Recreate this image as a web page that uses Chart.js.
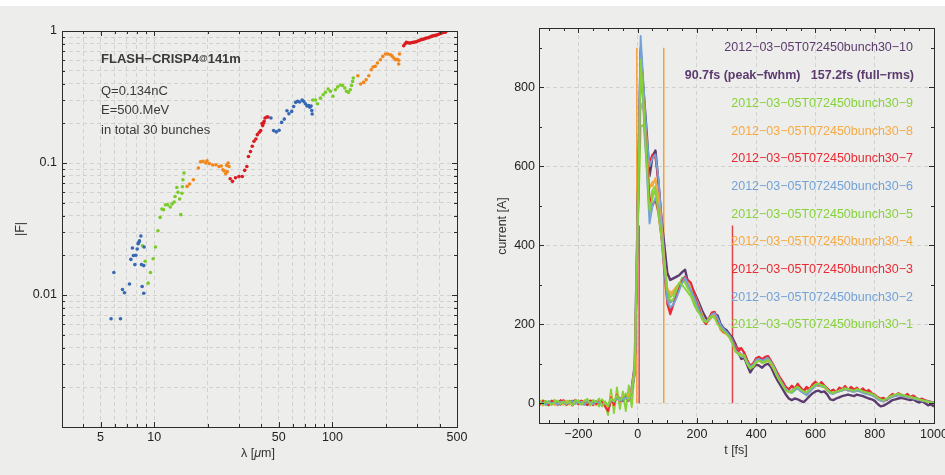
<!DOCTYPE html>
<html>
<head>
<meta charset="utf-8">
<script src="https://cdn.jsdelivr.net/npm/chart.js@4.4.0/dist/chart.umd.min.js"></script>
<style>
  html, body { margin: 0; padding: 0; background: #ededeb; }
  body { width: 945px; height: 475px; position: relative; overflow: hidden; }
  #strip { position: absolute; left: 0; top: 0; width: 945px; height: 6px; background: #fff; }
  #left { position: absolute; left: 0; top: 0; }
  #right { position: absolute; left: 470px; top: 0; }
</style>
</head>
<body>
<div id="strip"></div>
<canvas id="left" width="470" height="475"></canvas>
<canvas id="right" width="475" height="475"></canvas>
<script>
// ---- left panel: form factor |F| vs wavelength, one array pair per detector group
const BLUE1_LAMBDA = [5.73, 6.47, 5.94, 6.64, 6.81, 7.27, 7.4, 7.55, 7.65, 7.79, 7.89, 8.03, 8.13, 8.2, 8.27, 8.42, 8.49, 8.56, 8.74, 8.74, 8.78];
const BLUE1_F = [0.0066, 0.0066, 0.0148, 0.011, 0.0104, 0.0121, 0.0186, 0.0227, 0.0199, 0.017, 0.020, 0.0223, 0.0245, 0.025, 0.0257, 0.028, 0.017, 0.0116, 0.0167, 0.0103, 0.0231];
const GREEN1_LAMBDA = [8.6, 8.9, 9.25, 9.53, 9.87, 10.17, 10.5, 10.8, 11.05, 11.28, 11.57, 11.9, 12.3, 12.6, 12.95, 13.1, 13.4, 13.6, 13.9, 14.1, 14.3, 14.4, 14.5, 14.7];
const GREEN1_F = [0.0236, 0.018, 0.0123, 0.0148, 0.0188, 0.0231, 0.0307, 0.0387, 0.0448, 0.0443, 0.0483, 0.0483, 0.0464, 0.049, 0.0506, 0.0558, 0.0653, 0.060, 0.0533, 0.0406, 0.059, 0.066, 0.0747, 0.084];
const ORANGE1_LAMBDA = [15.3, 15.8, 16.6, 17.7, 18.2, 18.8, 19.5, 19.8, 20.4, 21.3, 22.2, 23.1, 23.8, 24.3, 24.7, 25.2, 25.5, 26, 26.3, 25.7];
const ORANGE1_F = [0.0665, 0.0693, 0.0747, 0.0917, 0.102, 0.103, 0.1, 0.104, 0.099, 0.0966, 0.097, 0.094, 0.095, 0.089, 0.087, 0.083, 0.096, 0.1, 0.094, 0.086];
const RED1_LAMBDA = [26.7, 27.5, 28.6, 29.9, 31.2, 32.2, 33.1, 33.8, 34.7, 35.5, 36.3, 37.2, 37.9, 38.9, 39.6, 40.3, 40.6, 41, 41.4, 41.9, 42.9, 43.5];
const RED1_F = [0.076, 0.0726, 0.0774, 0.079, 0.079, 0.088, 0.094, 0.112, 0.122, 0.134, 0.146, 0.152, 0.164, 0.171, 0.176, 0.199, 0.192, 0.2, 0.207, 0.219, 0.223, 0.223];
const BLUE2_LAMBDA = [45.2, 46.8, 48.4, 50.2, 51.9, 53.7, 55.6, 57, 59.1, 60.6, 62.2, 63.8, 65.5, 67.6, 69, 70.5, 72, 73.5, 74.7, 75.9, 76.6, 77];
const BLUE2_F = [0.219, 0.176, 0.172, 0.177, 0.203, 0.215, 0.249, 0.236, 0.246, 0.268, 0.288, 0.293, 0.29, 0.3, 0.293, 0.281, 0.27, 0.273, 0.265, 0.27, 0.25, 0.235];
const GREEN2_LAMBDA = [77.6, 80.3, 82.6, 85.7, 88.7, 91.4, 94.6, 97.5, 100.6, 104, 107, 110.9, 114, 117.4, 120, 123, 126, 128, 129.8, 131];
const GREEN2_F = [0.3, 0.3, 0.281, 0.31, 0.329, 0.343, 0.363, 0.349, 0.32, 0.359, 0.377, 0.39, 0.386, 0.37, 0.35, 0.343, 0.359, 0.386, 0.415, 0.44];
const ORANGE2_LAMBDA = [139, 144, 149.6, 154.6, 160, 165, 169, 174, 179, 186, 191.7, 198.5, 205, 212, 216.5, 221, 226, 230.7, 235.5, 238, 235.5];
const ORANGE2_F = [0.458, 0.397, 0.408, 0.427, 0.458, 0.509, 0.533, 0.54, 0.572, 0.606, 0.642, 0.669, 0.669, 0.66, 0.645, 0.624, 0.606, 0.61, 0.6, 0.669, 0.562];
const RED2_LAMBDA = [251, 256, 260, 265, 271, 277, 283.5, 290, 296, 302, 309, 316, 323, 330, 337, 345, 352, 360, 367, 375, 383, 392, 400, 406, 412, 418, 421, 426, 430, 432, 435];
const RED2_F = [0.774, 0.80, 0.82, 0.815, 0.81, 0.815, 0.82, 0.825, 0.83, 0.84, 0.85, 0.86, 0.866, 0.875, 0.885, 0.89, 0.9, 0.91, 0.92, 0.925, 0.93, 0.94, 0.954, 0.96, 0.97, 0.975, 0.98, 0.985, 0.98, 0.99, 1.0];

const LAMBDA_GRID = [4, 5, 6, 7, 8, 9, 10, 20, 30, 40, 50, 60, 70, 80, 90, 100, 200, 300, 400, 500];
const LAMBDA_LABELS = [5, 10, 50, 100, 500];
const LAMBDA_MINOR = [4, 6, 7, 8, 9, 20, 30, 40, 60, 70, 80, 90, 200, 300, 400];
const F_GRID = [0.002, 0.003, 0.004, 0.005, 0.006, 0.007, 0.008, 0.009, 0.01, 0.02, 0.03, 0.04, 0.05, 0.06, 0.07, 0.08, 0.09, 0.1, 0.2, 0.3, 0.4, 0.5, 0.6, 0.7, 0.8, 0.9, 1];
const F_LABELS = [1, 0.1, 0.01];
const F_MINOR = [0.002, 0.003, 0.004, 0.005, 0.006, 0.007, 0.008, 0.009, 0.02, 0.03, 0.04, 0.05, 0.06, 0.07, 0.08, 0.09, 0.2, 0.3, 0.4, 0.5, 0.6, 0.7, 0.8, 0.9];

// ---- right panel: current profiles
const T_FS = [-340, -330, -320, -310, -300, -290, -280, -270, -260, -250, -240, -230, -220, -210, -200, -190, -180, -170, -160, -150, -140, -130, -120, -110,
  -100, -90, -80, -70, -60, -50, -40, -30, -20, -10,
  0, 10, 20, 30, 40, 50, 60, 70, 80, 90, 100,
  110, 120, 130, 140, 150, 160, 170, 180, 190, 200, 210, 220, 230, 240, 250, 260, 270, 280, 290, 300,
  310, 320, 330, 340, 350, 360, 370, 380, 390, 400, 410, 420, 430, 440, 450, 460, 470, 480, 490, 500,
  510, 520, 530, 540, 550, 560, 570, 580, 590, 600, 610, 620, 630, 640, 650, 660, 670, 680, 690, 700,
  710, 720, 730, 740, 750, 760, 770, 780, 790, 800, 810, 820, 830, 840, 850, 860, 870, 880, 890, 900,
  910, 920, 930, 940, 950, 960, 970, 980, 990, 1000];

const BUNCH_1 = [2, 5, -3, 6, 1, -4, 3, 7, -2, 5, 0, 4, -5, 8, 2, -3, 6, 10, -4, 7, 3, 12, -8, 5,
  -8, 12, 5, 20, 8, 15, 25, 10, 30, 85,
  440, 870, 760, 620, 490, 520, 540, 480, 420, 350, 285,
  268, 275, 290, 305, 300, 290, 280, 270, 250, 235, 225, 210, 205, 215, 220, 215, 200, 190, 182, 175,
  168, 150, 130, 125, 120, 122, 100, 88, 95, 105, 108, 104, 106, 110, 102, 88, 70, 58, 45, 32,
  28, 30, 38, 42, 35, 30, 28, 35, 42, 48, 50, 46, 44, 35, 28, 26, 30, 32, 35, 38,
  36, 34, 32, 36, 34, 30, 28, 26, 24, 20, 14, 10, 8, 12, 16, 20, 22, 24, 22, 20,
  18, 16, 14, 12, 10, 8, 6, 4, 2, 0];
const BUNCH_2 = [-2, 3, 1, -4, 5, 0, 2, -3, 4, 1, -2, 3, 5, -1, 2, 4, -3, 6, 2, -2, 5, 1, -6, 3,
  -5, 10, 4, 12, 6, 10, 15, 8, 28, 70,
  430, 850, 740, 600, 455, 500, 520, 500, 430, 340, 260,
  242, 250, 265, 285, 305, 318, 300, 285, 270, 250, 230, 215, 205, 212, 225, 228, 215, 198, 188, 180,
  170, 155, 135, 125, 118, 118, 105, 92, 98, 110, 112, 108, 110, 114, 105, 92, 75, 60, 48, 36,
  30, 28, 34, 38, 30, 26, 22, 30, 38, 45, 48, 44, 42, 34, 26, 24, 28, 30, 33, 36,
  34, 32, 30, 33, 31, 28, 26, 24, 22, 18, 12, 8, 6, 10, 14, 18, 20, 22, 20, 18,
  16, 15, 14, 12, 10, 8, 6, 5, 3, 2];
const BUNCH_3 = [4, -3, 6, 2, -5, 7, 1, -2, 8, 3, -4, 5, 2, 9, -3, 6, 1, -5, 7, 4, -2, 6, 3, -8,
  -20, 15, -5, 22, 5, 12, 18, 6, 30, 75,
  420, 860, 760, 630, 520, 500, 515, 480, 420, 330, 250,
  225, 248, 270, 290, 310, 320, 312, 305, 280, 255, 235, 212, 200, 215, 230, 232, 212, 190, 180, 178,
  170, 158, 140, 132, 138, 128, 110, 95, 102, 115, 118, 112, 118, 120, 108, 95, 80, 66, 55, 42,
  35, 45, 38, 50, 40, 32, 42, 36, 48, 55, 46, 54, 45, 38, 30, 35, 28, 40, 36, 44,
  34, 42, 35, 40, 32, 38, 30, 34, 26, 22, 16, 12, 14, 8, 18, 24, 20, 26, 22, 18,
  24, 16, 20, 14, 10, 12, 8, 6, 4, 2];
const BUNCH_4 = [-3, 2, -6, 4, 0, 3, -5, 2, 6, -2, 3, -4, 1, 5, -2, 3, 7, -3, 4, 1, -5, 3, 2, -4,
  -15, 20, -8, 25, 2, 18, 12, 22, 35, 90,
  470, 850, 760, 640, 545, 560, 565, 520, 450, 360, 290,
  275, 280, 292, 300, 310, 315, 305, 292, 275, 258, 238, 220, 205, 208, 222, 226, 210, 185, 178, 176,
  168, 155, 138, 128, 122, 120, 104, 92, 96, 106, 110, 104, 106, 110, 100, 88, 72, 60, 48, 38,
  32, 30, 36, 40, 34, 28, 25, 32, 40, 46, 48, 45, 42, 34, 28, 26, 30, 32, 34, 36,
  35, 32, 30, 34, 32, 28, 26, 24, 22, 18, 12, 8, 6, 10, 14, 18, 20, 22, 20, 18,
  16, 15, 14, 12, 10, 8, 6, 4, 2, 0];
const BUNCH_5 = [5, -4, 8, 2, -6, 4, 9, -3, 6, 0, -5, 7, 3, -2, 8, -4, 5, 11, -6, 8, 2, -8, 10, -4,
  -30, 35, -25, 40, -15, 30, -20, 45, -10, 88,
  420, 700, 705, 610, 480, 530, 540, 500, 440, 350, 270,
  260, 262, 280, 298, 310, 305, 290, 280, 258, 240, 226, 210, 200, 210, 218, 222, 205, 188, 180, 176,
  166, 152, 134, 124, 118, 116, 100, 88, 92, 104, 108, 102, 104, 108, 100, 86, 70, 56, 44, 34,
  28, 26, 32, 38, 32, 26, 22, 30, 38, 44, 46, 42, 40, 32, 26, 24, 28, 30, 32, 36,
  34, 32, 30, 34, 32, 28, 26, 24, 22, 18, 12, 8, 6, 10, 14, 18, 20, 22, 20, 18,
  16, 15, 14, 12, 10, 8, 6, 4, 2, 0];
const BUNCH_6 = [1, -3, 4, -1, 3, -4, 2, 5, -2, 3, -1, 4, -3, 2, 5, 0, -4, 3, 6, -2, 4, 0, -3, 2,
  -10, 5, 8, 15, 10, 12, 18, 10, 32, 85,
  480, 930, 800, 680, 600, 620, 630, 570, 470, 370, 280,
  255, 262, 280, 298, 312, 322, 308, 295, 278, 260, 240, 220, 205, 210, 222, 226, 214, 196, 186, 180,
  172, 160, 142, 132, 124, 122, 108, 95, 100, 112, 115, 110, 114, 116, 106, 92, 76, 62, 50, 40,
  34, 32, 36, 40, 32, 26, 20, 28, 36, 44, 48, 44, 42, 34, 26, 24, 28, 30, 32, 35,
  33, 30, 28, 32, 30, 26, 24, 22, 20, 16, 10, 6, 4, 8, 12, 16, 18, 20, 18, 16,
  15, 14, 12, 10, 8, 6, 5, 4, 2, 0];
const BUNCH_7 = [-4, 5, 0, 6, -3, 2, 7, -5, 3, 8, -2, 4, -6, 5, 1, 7, -3, 4, 2, -5, 6, 1, -4, 3,
  -22, 10, -3, 16, 8, 14, 20, 12, 34, 80,
  450, 900, 780, 640, 610, 630, 620, 560, 470, 360, 260,
  232, 250, 272, 292, 306, 316, 310, 300, 282, 262, 240, 218, 204, 214, 228, 230, 210, 192, 182, 178,
  172, 160, 145, 138, 140, 126, 108, 92, 100, 112, 116, 110, 116, 118, 106, 92, 78, 64, 52, 40,
  36, 42, 36, 46, 38, 30, 38, 34, 46, 52, 44, 52, 44, 36, 30, 34, 28, 38, 34, 42,
  32, 40, 34, 38, 30, 36, 28, 32, 24, 20, 14, 10, 12, 8, 16, 22, 18, 24, 20, 16,
  22, 14, 18, 12, 8, 10, 6, 4, 2, -2];
const BUNCH_8 = [3, -1, 5, -3, 2, 6, -2, 4, 0, -4, 5, 2, -1, 6, 3, -3, 4, 0, 7, -2, 3, 5, -1, 2,
  -12, 15, 0, 20, 6, 16, 14, 18, 30, 82,
  440, 760, 740, 620, 550, 550, 570, 530, 460, 360, 290,
  280, 285, 295, 302, 308, 312, 302, 290, 272, 256, 236, 218, 205, 210, 224, 226, 210, 186, 178, 175,
  166, 152, 136, 126, 120, 118, 102, 90, 94, 104, 108, 102, 105, 108, 98, 86, 70, 58, 46, 36,
  30, 28, 34, 38, 32, 26, 24, 30, 38, 44, 46, 43, 40, 33, 27, 25, 29, 31, 33, 35,
  34, 31, 29, 33, 31, 27, 25, 23, 21, 17, 11, 7, 5, 9, 13, 17, 19, 21, 19, 17,
  15, 14, 13, 11, 9, 7, 5, 4, 2, 0];
const BUNCH_9 = [-2, 4, 1, -5, 6, 2, -3, 5, 1, -2, 7, 3, -4, 2, 6, -1, 4, 8, -3, 5, 0, -2, 6, 1,
  -14, 18, -6, 24, 4, 20, 10, 25, 28, 86,
  470, 900, 780, 660, 500, 540, 550, 500, 440, 350, 270,
  255, 262, 280, 300, 318, 310, 292, 280, 262, 245, 228, 212, 202, 212, 220, 224, 208, 190, 182, 177,
  170, 156, 138, 128, 122, 120, 104, 90, 95, 106, 110, 104, 106, 110, 102, 88, 72, 58, 46, 36,
  30, 28, 34, 40, 34, 28, 26, 32, 40, 46, 48, 44, 42, 34, 28, 26, 30, 32, 34, 38,
  36, 33, 31, 35, 33, 29, 27, 25, 23, 19, 13, 9, 7, 11, 15, 19, 21, 23, 21, 19,
  17, 16, 15, 13, 11, 9, 7, 5, 3, 1];
const BUNCH_10 = [3, -2, 4, 0, -4, 2, 5, 1, -3, 4, 2, -2, 6, 3, -1, 5, 2, -4, 3, 6, 1, -3, 4, -6,
  -18, 8, 2, 18, 12, 6, 20, 14, 38, 95,
  480, 890, 790, 690, 575, 625, 640, 560, 470, 400, 330,
  312, 316, 320, 324, 332, 338, 305, 298, 282, 266, 248, 230, 216, 210, 220, 226, 222, 200, 190, 185,
  175, 165, 150, 128, 112, 115, 96, 78, 90, 98, 95, 90, 97, 100, 92, 75, 60, 48, 35, 22,
  12, 8, 12, 10, 6, 3, 10, 18, 25, 30, 32, 28, 30, 22, 10, 8, 12, 15, 18, 20,
  22, 20, 18, 22, 20, 18, 15, 12, 10, 6, -2, -8, -6, -2, 3, 8, 10, 12, 14, 12,
  10, 8, 10, 5, 2, 5, 0, -5, -3, -8];

const BUNCH_LABELS = ['2012−03−05T072450bunch30−1', '2012−03−05T072450bunch30−2', '2012−03−05T072450bunch30−3',
  '2012−03−05T072450bunch30−4', '2012−03−05T072450bunch30−5', '2012−03−05T072450bunch30−6',
  '2012−03−05T072450bunch30−7', '2012−03−05T072450bunch30−8', '2012−03−05T072450bunch30−9',
  '2012−03−05T072450bunch30−10'];
const BUNCH_COLORS = ['#86d23a', '#74a2d7', '#ea2a33', '#f6aa42', '#86d23a', '#74a2d7', '#ea2a33', '#f6aa42', '#86d23a', '#5c3b6e'];
const STATS_TEXT = '90.7fs (peak−fwhm)   157.2fs (full−rms)';

// markers: fwhm edges (orange) and rms edges (red)
const FWHM_T = [-3, 88];
const FWHM_TOP = 900;
const RMS_T = [5, 320];
const RMS_TOP = 450;

const T_TICKS = [-200, 0, 200, 400, 600, 800, 1000];
const T_MINOR = [-300, -250, -150, -100, -50, 50, 100, 150, 250, 300, 350, 450, 500, 550, 650, 700, 750, 850, 900, 950];
const I_TICKS = [0, 200, 400, 600, 800];
const I_MINOR = [100, 300, 500, 700, 900];

const FONT = '"Liberation Sans", Arial, sans-serif';
const TXT = '#3a3a3a';

// frame with inward ticks on all four sides
function framePlugin(t) {
  return {
    id: 'frame',
    afterDatasetsDraw(chart) {
      const { ctx, chartArea: a, scales: { x, y } } = chart;
      ctx.save();
      ctx.strokeStyle = '#2c2c2c';
      ctx.lineWidth = 1;
      ctx.beginPath();
      const xt = (vals, len) => vals.forEach(v => {
        const px = Math.round(x.getPixelForValue(v)) + 0.5;
        ctx.moveTo(px, a.bottom); ctx.lineTo(px, a.bottom - len);
        ctx.moveTo(px, a.top); ctx.lineTo(px, a.top + len);
      });
      const yt = (vals, len) => vals.forEach(v => {
        const py = Math.round(y.getPixelForValue(v)) + 0.5;
        ctx.moveTo(a.left, py); ctx.lineTo(a.left + len, py);
        ctx.moveTo(a.right, py); ctx.lineTo(a.right - len, py);
      });
      xt(t.xMajor, 5); xt(t.xMinor, 3);
      yt(t.yMajor, 5); yt(t.yMinor, 3);
      ctx.stroke();
      ctx.strokeRect(Math.round(a.left) + 0.5, Math.round(a.top) + 0.5, Math.round(a.right - a.left), Math.round(a.bottom - a.top));
      ctx.restore();
    }
  };
}

function drawParts(ctx, parts, x, y, align, color) {
  ctx.fillStyle = color;
  ctx.textBaseline = 'middle';
  ctx.textAlign = 'left';
  let w = 0;
  const widths = parts.map(p => { ctx.font = p.f; const m = ctx.measureText(p.t).width; w += m; return m; });
  let cx = align === 'center' ? x - w / 2 : align === 'right' ? x - w : x;
  parts.forEach((p, i) => { ctx.font = p.f; ctx.fillText(p.t, cx, y); cx += widths[i]; });
}

function notesPlugin(items) {
  return {
    id: 'notes',
    afterDatasetsDraw(chart) {
      const ctx = chart.ctx;
      items.forEach(it => {
        ctx.save();
        if (it.rotate) {
          ctx.translate(it.x, it.y);
          ctx.rotate(-Math.PI / 2);
          drawParts(ctx, it.parts, 0, 0, it.align, it.color);
        } else {
          drawParts(ctx, it.parts, it.x, it.y, it.align, it.color);
        }
        ctx.restore();
      });
    }
  };
}

const gridOpts = { color: '#d2d2d0', lineWidth: 1, drawTicks: false };
const borderOpts = { display: false, dash: [4, 3] };
const tickFont = { family: FONT, size: 12.5 };

// ---- left chart
const leftGroups = [
  [BLUE1_LAMBDA, BLUE1_F, '#3567b2'], [GREEN1_LAMBDA, GREEN1_F, '#7acb28'],
  [ORANGE1_LAMBDA, ORANGE1_F, '#f2861a'], [RED1_LAMBDA, RED1_F, '#d91c20'],
  [BLUE2_LAMBDA, BLUE2_F, '#3567b2'], [GREEN2_LAMBDA, GREEN2_F, '#7acb28'],
  [ORANGE2_LAMBDA, ORANGE2_F, '#f2861a'], [RED2_LAMBDA, RED2_F, '#d91c20']
];

new Chart(document.getElementById('left'), {
  type: 'scatter',
  data: {
    datasets: leftGroups.map(([lam, f, c]) => ({
      data: lam.map((l, i) => ({ x: l, y: f[i] })),
      backgroundColor: c,
      borderWidth: 0,
      pointRadius: 1.8
    }))
  },
  options: {
    responsive: false,
    animation: false,
    events: [],
    layout: { padding: { top: 31, right: 13, left: 0, bottom: 0 } },
    plugins: { legend: { display: false }, tooltip: { enabled: false } },
    scales: {
      x: {
        type: 'logarithmic', min: 3.04, max: 500,
        afterBuildTicks: s => { s.ticks = LAMBDA_GRID.map(v => ({ value: v })); },
        afterFit: s => { s.height = 48; s.paddingLeft = 0; s.paddingRight = 0; },
        grid: gridOpts, border: borderOpts,
        ticks: { autoSkip: false, maxRotation: 0, padding: 3, color: '#222', font: tickFont,
          callback: v => LAMBDA_LABELS.includes(v) ? String(v) : '' }
      },
      y: {
        type: 'logarithmic', min: 0.001, max: 1,
        afterBuildTicks: s => { s.ticks = F_GRID.map(v => ({ value: v })); },
        afterFit: s => { s.width = 62; s.paddingTop = 0; s.paddingBottom = 0; },
        grid: gridOpts, border: borderOpts,
        ticks: { autoSkip: false, padding: 5, color: '#222', font: tickFont,
          callback: v => F_LABELS.includes(v) ? String(v) : '' }
      }
    }
  },
  plugins: [
    framePlugin({ xMajor: LAMBDA_LABELS, xMinor: LAMBDA_MINOR, yMajor: F_LABELS, yMinor: F_MINOR }),
    notesPlugin([
      { x: 101, y: 59, align: 'left', color: TXT, parts: [
        { t: 'FLASH−CRISP4', f: 'bold 13px ' + FONT }, { t: '@', f: 'bold 9px ' + FONT }, { t: '141m', f: 'bold 13px ' + FONT }] },
      { x: 101, y: 91, align: 'left', color: TXT, parts: [{ t: 'Q=0.134nC', f: '13px ' + FONT }] },
      { x: 101, y: 110, align: 'left', color: TXT, parts: [{ t: 'E=500.MeV', f: '13px ' + FONT }] },
      { x: 101, y: 130, align: 'left', color: TXT, parts: [{ t: 'in total 30 bunches', f: '13px ' + FONT }] },
      { x: 258, y: 454, align: 'center', color: '#333', parts: [
        { t: 'λ [', f: '12.5px ' + FONT }, { t: 'μ', f: 'italic 12.5px ' + FONT }, { t: 'm]', f: '12.5px ' + FONT }] },
      { x: 21, y: 229, align: 'center', rotate: true, color: '#333', parts: [{ t: '|F|', f: '12.5px ' + FONT }] }
    ])
  ]
});

// ---- right chart
const bunchSeries = [BUNCH_1, BUNCH_2, BUNCH_3, BUNCH_4, BUNCH_5, BUNCH_6, BUNCH_7, BUNCH_8, BUNCH_9, BUNCH_10];
const rightDatasets = bunchSeries.map((vals, k) => ({
  label: BUNCH_LABELS[k],
  data: T_FS.map((t, i) => ({ x: t, y: vals[i] })),
  borderColor: BUNCH_COLORS[k],
  borderWidth: k === 9 ? 2.4 : 1.9,
  pointRadius: 0,
  tension: 0,
  borderJoinStyle: 'round'
}));
FWHM_T.forEach(t => rightDatasets.push({
  data: [{ x: t, y: 0 }, { x: t, y: FWHM_TOP }], borderColor: '#f5a040', borderWidth: 1.5, pointRadius: 0
}));
RMS_T.forEach(t => rightDatasets.push({
  data: [{ x: t, y: 0 }, { x: t, y: RMS_TOP }], borderColor: '#e0454b', borderWidth: 1.5, pointRadius: 0
}));

const legendItems = [{ x: 443, y: 48, align: 'right', color: BUNCH_COLORS[9], parts: [{ t: BUNCH_LABELS[9], f: '12.5px ' + FONT }] },
  { x: 444, y: 76, align: 'right', color: BUNCH_COLORS[9], parts: [{ t: STATS_TEXT, f: 'bold 12.5px ' + FONT }] }];
for (let k = 8; k >= 0; k--) {
  legendItems.push({ x: 443, y: 103.4 + (8 - k) * 27.7, align: 'right', color: BUNCH_COLORS[k], parts: [{ t: BUNCH_LABELS[k], f: '12.5px ' + FONT }] });
}
legendItems.push({ x: 266, y: 451, align: 'center', color: '#333', parts: [{ t: 't [fs]', f: '12.5px ' + FONT }] });
legendItems.push({ x: 33, y: 226, align: 'center', rotate: true, color: '#333', parts: [{ t: 'current [A]', f: '12.5px ' + FONT }] });

new Chart(document.getElementById('right'), {
  type: 'line',
  data: { datasets: rightDatasets },
  options: {
    responsive: false,
    animation: false,
    events: [],
    layout: { padding: { top: 28, right: 11, left: 0, bottom: 0 } },
    plugins: { legend: { display: false }, tooltip: { enabled: false } },
    scales: {
      x: {
        type: 'linear', min: -333, max: 1000,
        afterBuildTicks: s => { s.ticks = T_TICKS.map(v => ({ value: v })); },
        afterFit: s => { s.height = 52; s.paddingLeft = 0; s.paddingRight = 0; },
        grid: gridOpts, border: borderOpts,
        ticks: { autoSkip: false, maxRotation: 0, padding: 4, color: '#222', font: tickFont,
          callback: v => v < 0 ? '−' + Math.abs(v) : String(v) }
      },
      y: {
        type: 'linear', min: -50, max: 950,
        afterBuildTicks: s => { s.ticks = I_TICKS.map(v => ({ value: v })); },
        afterFit: s => { s.width = 69; s.paddingTop = 0; s.paddingBottom = 0; },
        grid: gridOpts, border: borderOpts,
        ticks: { autoSkip: false, padding: 4, color: '#222', font: tickFont, callback: v => String(v) }
      }
    }
  },
  plugins: [
    framePlugin({ xMajor: T_TICKS, xMinor: T_MINOR, yMajor: I_TICKS, yMinor: I_MINOR }),
    notesPlugin(legendItems)
  ]
});
</script>
</body>
</html>
